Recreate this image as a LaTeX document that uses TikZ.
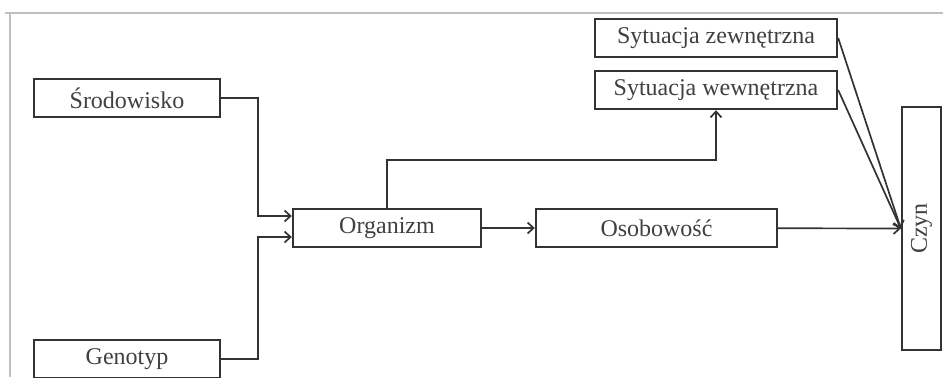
\documentclass[tikz,border=0pt]{standalone}
\usepackage{fontspec}
\setmainfont{Liberation Serif}
\usetikzlibrary{calc,arrows.meta}

\begin{document}
\begin{tikzpicture}[x=0.5pt,y=-0.5pt,
    box/.style={draw=black!80, line width=1.2pt, fill=white, inner sep=0pt,
        minimum height=19pt, font=\fontsize{12}{14}\selectfont, text=black!75},
    arr/.style={-{Straight Barb[length=3pt,width=5.5pt]}, line width=0.85pt, draw=black!80}]
    \useasboundingbox (0,0) rectangle (943,377);
    %frame
    \draw[black!25, line width=1pt] (5,13) -- (943,13);
    \draw[black!25, line width=1pt] (9.5,13) -- (9.5,377);

    %left column
    \node[box, minimum width=93pt] (srod) at (127,98) {Środowisko};
    \node[box, minimum width=93pt] (geno) at (127,359) {Genotyp};

    %middle
    \node[box, minimum width=94pt] (org) at (387,228) {Organizm};
    \node[box, minimum width=120.5pt] (osob) at (656.5,228) {Osobowość};

    %situations
    \node[box, minimum width=121pt] (zew) at (716,38) {Sytuacja zewnętrzna};
    \node[box, minimum width=121pt] (wew) at (716,90) {Sytuacja wewnętrzna};

    %Czyn
    \node[box, minimum width=19.5pt, minimum height=121.5pt] (czyn) at (921.5,228.5) {\rotatebox{90}{Czyn}};

    \draw[arr] (srod.east) -- ++(37,0) |- ($(org.west)+(0,-12)$);
    \draw[arr] (geno.east) -- ++(37,0) |- ($(org.west)+(0,9)$);
    \draw[arr] (org.north) |- ($(wew.south)+(0,50)$) -- (wew.south);
    \draw[arr] (org) -- (osob);
    \draw[arr] (osob) -- (czyn.west);
    \draw[arr] (zew.east) -- (czyn.west);
    \draw[arr] (wew.east) -- (czyn.west);
\end{tikzpicture}
\end{document}
